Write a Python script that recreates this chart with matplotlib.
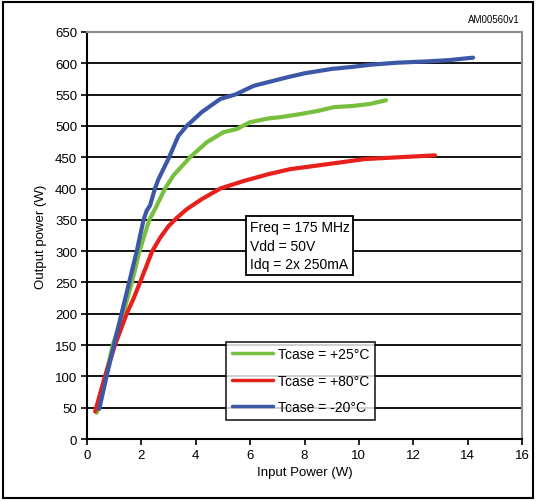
import numpy as np
import matplotlib.pyplot as plt
from matplotlib.patches import Rectangle

plt.rcParams['font.family'] = ['Liberation Sans', 'DejaVu Sans']

# Tcase = -20 C
pin_cold = [0.45, 0.72, 0.99, 1.27, 1.55, 1.83, 2.08, 2.2, 2.32, 2.5, 2.63, 3.0, 3.36, 3.67,
            4.22, 4.9, 5.45, 6.13, 6.67, 7.4, 8.0, 9.0, 9.7, 10.5, 11.43, 12.5, 13.3, 14.2]
pout_cold = [48, 100, 150, 200, 250, 300, 350, 365, 373, 400, 415, 448, 484, 500,
             522, 543, 550, 564, 570, 578, 584, 591, 594, 598, 601, 603, 605, 609]

# Tcase = +25 C
pin_room = [0.36, 0.68, 0.95, 1.38, 1.65, 1.93, 2.29, 2.5, 2.87, 3.18, 3.79, 4.41, 5.02, 5.51, 6.0,
            6.68, 7.12, 7.86, 8.5, 9.09, 9.82, 10.4, 11.0]
pout_room = [42, 100, 150, 208, 250, 300, 350, 367, 400, 421, 450, 474, 490, 495, 506,
             512, 514, 519, 524, 530, 532, 535, 541]

# Tcase = +80 C
pin_hot = [0.3, 0.66, 1.03, 1.46, 1.71, 1.95, 2.4, 2.7, 3.0, 3.3, 3.67, 4.22, 4.9, 5.76, 6.68,
           7.48, 8.35, 9.2, 10.2, 11.5, 12.8]
pout_hot = [44, 100, 150, 200, 224, 250, 300, 322, 340, 353, 367, 383, 400, 412, 423,
            431, 436, 441, 447, 450, 453]

labels = ['Tcase = +25°C', 'Tcase = +80°C', 'Tcase = -20°C']
colors = ['#77bf3f', '#e8201c', '#3d57a7']

fig = plt.figure(figsize=(5.36, 5.02), dpi=100)
ax = fig.add_axes([0.1623, 0.1235, 0.8116, 0.8108])

ax.plot(pin_room, pout_room, color=colors[0], lw=3.0, label=labels[0],
        solid_capstyle='round', solid_joinstyle='round')
ax.plot(pin_hot, pout_hot, color=colors[1], lw=3.0, label=labels[1],
        solid_capstyle='round', solid_joinstyle='round')
ax.plot(pin_cold, pout_cold, color=colors[2], lw=3.0, label=labels[2],
        solid_capstyle='round', solid_joinstyle='round')

ax.set_xlim(0, 16)
ax.set_ylim(0, 650)
ax.set_xticks(np.arange(0, 17, 2))
ax.set_yticks(np.arange(0, 651, 50))
for y in range(50, 650, 50):
    ax.axhline(y, color='black', lw=1.3, zorder=0)

for s in ['top', 'right']:
    ax.spines[s].set_color('#8c8c8c')
    ax.spines[s].set_linewidth(1.5)
for s in ['left', 'bottom']:
    ax.spines[s].set_color('black')
    ax.spines[s].set_linewidth(1.5)
ax.tick_params(axis='both', labelsize=9.5, width=1.2, length=4, direction='out', pad=3)

ax.set_xlabel('Input Power (W)', fontsize=9.5, labelpad=4)
ax.set_ylabel('Output power (W)', fontsize=9.5, labelpad=6)

ax.text(5.98, 309, 'Freq = 175 MHz\nVdd = 50V\nIdq = 2x 250mA', fontsize=10,
        linespacing=1.45, va='center', ha='left',
        bbox=dict(boxstyle='square,pad=0.25', fc='white', ec='black', lw=1.3))

leg = ax.legend(loc='lower left', bbox_to_anchor=(0.32, 0.047), frameon=True, fancybox=False,
                fontsize=10, handlelength=3.0, borderpad=0.4, labelspacing=0.9,
                handletextpad=0.3, borderaxespad=0)
leg.get_frame().set_edgecolor('black')
leg.get_frame().set_linewidth(1.3)
for h in leg.get_lines():
    h.set_linewidth(2.5)

fig.text(0.97, 0.96, 'AM00560v1', fontsize=7, ha='right', va='center')
fig.patches.append(Rectangle((0.006, 0.006), 0.988, 0.988, transform=fig.transFigure,
                             fill=False, ec='black', lw=1.5))

fig.savefig('out.png', dpi=100)
